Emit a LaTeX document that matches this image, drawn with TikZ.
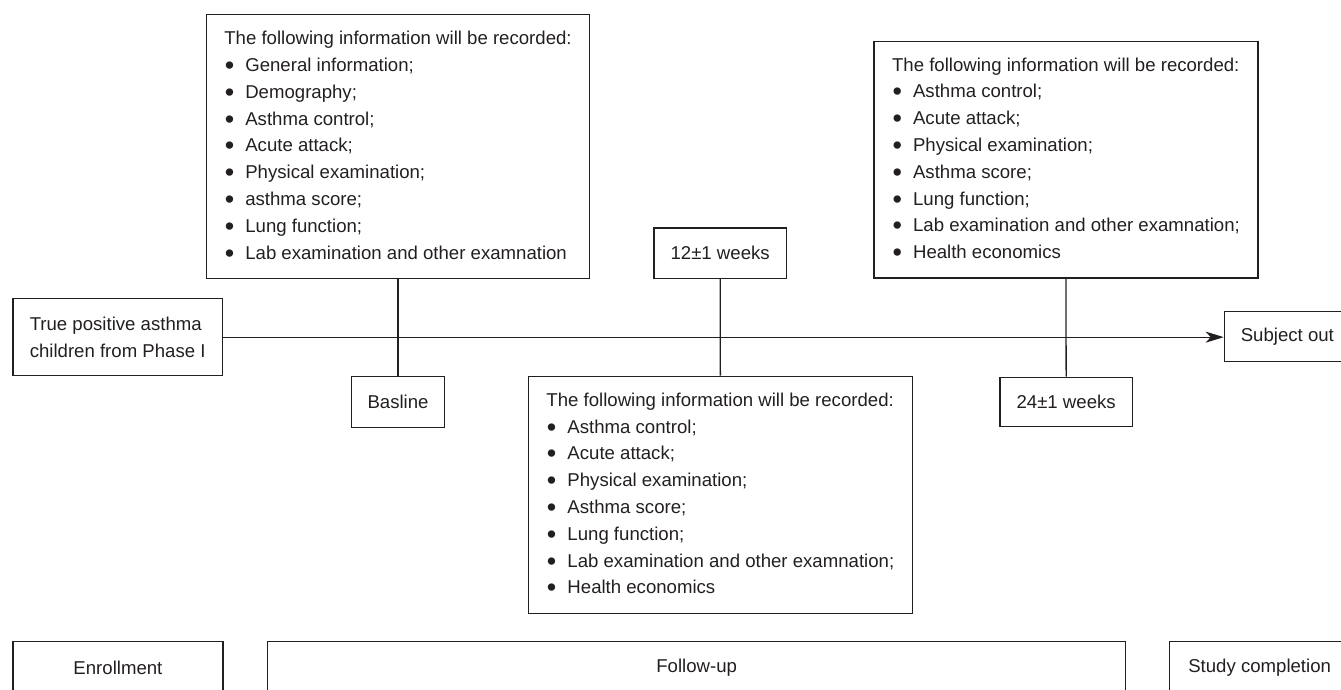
\documentclass[tikz,border=0pt]{standalone}
\usepackage{fontspec}
\setmainfont{Liberation Sans}
\usetikzlibrary{arrows.meta}
\definecolor{ink}{RGB}{35,31,32}
\newcommand{\bul}{\makebox[21pt][l]{\hspace{0.5pt}\raisebox{-2.9pt}{\scalebox{1.45}{•}}}}
\begin{document}
\begin{tikzpicture}[x=1pt,y=-1pt,
  font=\fontsize{18.6}{26.8}\selectfont,
  box/.style={draw=ink, text=ink, line width=1.3pt, rectangle, anchor=north west, inner sep=0pt, align=center},
  infobox/.style={box, align=left},
  conn/.style={draw=ink, line width=1.3pt},
  arrowconn/.style={conn, -{Stealth[length=18pt,width=11pt,inset=5pt]}}]
\useasboundingbox (0,0) rectangle (1341,690);
\clip (0,0) rectangle (1341,690);

% information boxes
\node[infobox, minimum width=383.3pt, minimum height=264pt] (info1) at (205.7,14) {The following information will be recorded:\\
\bul General information;\\
\bul Demography;\\
\bul Asthma control;\\
\bul Acute attack;\\
\bul Physical examination;\\
\bul asthma score;\\
\bul Lung function;\\
\bul Lab examination and other examnation};

\node[infobox, minimum width=384pt, minimum height=237pt] (info2) at (527.7,375.7) {The following information will be recorded:\\
\bul Asthma control;\\
\bul Acute attack;\\
\bul Physical examination;\\
\bul Asthma score;\\
\bul Lung function;\\
\bul Lab examination and other examnation;\\
\bul Health economics};

\node[infobox, minimum width=384pt, minimum height=236.6pt] (info3) at (873.3,40.7) {The following information will be recorded:\\
\bul Asthma control;\\
\bul Acute attack;\\
\bul Physical examination;\\
\bul Asthma score;\\
\bul Lung function;\\
\bul Lab examination and other examnation;\\
\bul Health economics};

% time point boxes
\node[infobox, minimum width=209.4pt, minimum height=77pt] (start) at (12.3,298) {True positive asthma\\children from Phase I};
\node[box, minimum width=92.7pt, minimum height=50.7pt] (basline) at (351,376) {Basline};
\node[box, minimum width=132.4pt, minimum height=50.4pt] (w12) at (653.3,227.3) {12±1 weeks};
\node[box, minimum width=132.4pt, minimum height=49.3pt] (w24) at (999.3,376.7) {24±1 weeks};
\node[box, minimum width=126pt, minimum height=50pt] (out) at (1223.7,310.7) {Subject out};

% phase boxes
\node[box, minimum width=210pt, minimum height=52pt] (enroll) at (12.3,641) {Enrollment};
\node[box, minimum width=858pt, minimum height=52pt] (follow) at (267,641) {Follow-up};
\node[box, minimum width=180pt, minimum height=52pt] (complete) at (1169,641) {Study completion};

% connectors
\draw[conn] (info1.south) -- (basline.north);
\draw[conn] (w12.south) -- (info2.north);
\draw[conn] (info3.south) -- (w24.north);
\draw[arrowconn] (start.east) -- (start.east -| out.west);
\end{tikzpicture}
\end{document}
